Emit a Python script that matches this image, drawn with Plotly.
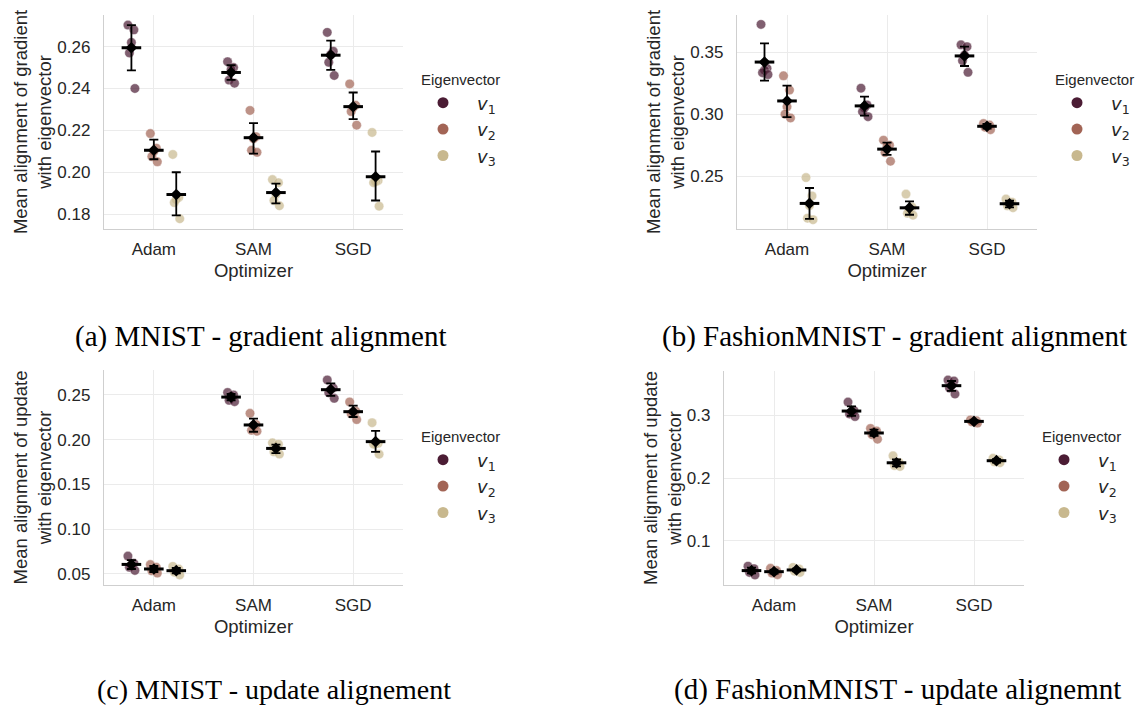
import plotly.graph_objects as go

# ---- data -------------------------------------------------------------
optimizers = ["Adam", "SAM", "SGD"]
eigen_labels = ["<i>v</i><sub>1</sub>", "<i>v</i><sub>2</sub>", "<i>v</i><sub>3</sub>"]

# per-seed alignment values, one inner list per optimizer (Adam, SAM, SGD)
mnist_grad_v1 = [[0.2703, 0.2680, 0.2620, 0.2570, 0.2400],
                 [0.2528, 0.2500, 0.2490, 0.2440, 0.2425],
                 [0.2668, 0.2578, 0.2562, 0.2525, 0.2462]]
mnist_grad_v2 = [[0.2185, 0.2115, 0.2100, 0.2075, 0.2050],
                 [0.2295, 0.2170, 0.2160, 0.2105, 0.2095],
                 [0.2422, 0.2320, 0.2310, 0.2290, 0.2225]]
mnist_grad_v3 = [[0.2085, 0.1880, 0.1870, 0.1855, 0.1778],
                 [0.1965, 0.1950, 0.1895, 0.1865, 0.1840],
                 [0.2190, 0.1960, 0.1955, 0.1950, 0.1838]]

fmnist_grad_v1 = [[0.3725, 0.3370, 0.3355, 0.3335, 0.3320],
                  [0.3210, 0.3075, 0.3050, 0.3020, 0.2980],
                  [0.3560, 0.3545, 0.3478, 0.3432, 0.3338]]
fmnist_grad_v2 = [[0.3310, 0.3195, 0.3060, 0.3000, 0.2970],
                  [0.2790, 0.2750, 0.2740, 0.2690, 0.2620],
                  [0.2925, 0.2912, 0.2905, 0.2895, 0.2875]]
fmnist_grad_v3 = [[0.2488, 0.2340, 0.2262, 0.2160, 0.2148],
                  [0.2355, 0.2250, 0.2230, 0.2200, 0.2185],
                  [0.2315, 0.2290, 0.2275, 0.2260, 0.2245]]

# SAM and SGD updates point along the gradient, so their update alignment
# equals the gradient alignment; only Adam differs.
mnist_update_v1 = [[0.0700, 0.0620, 0.0600, 0.0575, 0.0540], mnist_grad_v1[1], mnist_grad_v1[2]]
mnist_update_v2 = [[0.0605, 0.0575, 0.0555, 0.0535, 0.0510], mnist_grad_v2[1], mnist_grad_v2[2]]
mnist_update_v3 = [[0.0585, 0.0555, 0.0535, 0.0520, 0.0490], mnist_grad_v3[1], mnist_grad_v3[2]]

fmnist_update_v1 = [[0.0600, 0.0560, 0.0525, 0.0500, 0.0460], fmnist_grad_v1[1], fmnist_grad_v1[2]]
fmnist_update_v2 = [[0.0565, 0.0530, 0.0510, 0.0490, 0.0465], fmnist_grad_v2[1], fmnist_grad_v2[2]]
fmnist_update_v3 = [[0.0580, 0.0555, 0.0540, 0.0520, 0.0500], fmnist_grad_v3[1], fmnist_grad_v3[2]]

# 95% confidence intervals (low, high) per optimizer
mnist_grad_ci_v1 = [(0.2487, 0.2703), (0.2441, 0.2511), (0.2489, 0.2629)]
mnist_grad_ci_v2 = [(0.2062, 0.2156), (0.2089, 0.2235), (0.2254, 0.2381)]
mnist_grad_ci_v3 = [(0.1794, 0.2000), (0.1851, 0.1946), (0.1865, 0.2099)]

fmnist_grad_ci_v1 = [(0.3271, 0.3572), (0.2989, 0.3142), (0.3389, 0.3545)]
fmnist_grad_ci_v2 = [(0.2976, 0.3231), (0.2672, 0.2771), (0.2884, 0.2922)]
fmnist_grad_ci_v3 = [(0.2154, 0.2404), (0.2188, 0.2296), (0.2247, 0.2301)]

mnist_update_ci_v1 = [(0.0556, 0.0656), mnist_grad_ci_v1[1], mnist_grad_ci_v1[2]]
mnist_update_ci_v2 = [(0.0522, 0.0589), mnist_grad_ci_v2[1], mnist_grad_ci_v2[2]]
mnist_update_ci_v3 = [(0.0507, 0.0567), mnist_grad_ci_v3[1], mnist_grad_ci_v3[2]]

fmnist_update_ci_v1 = [(0.0486, 0.0576), fmnist_grad_ci_v1[1], fmnist_grad_ci_v1[2]]
fmnist_update_ci_v2 = [(0.0480, 0.0545), fmnist_grad_ci_v2[1], fmnist_grad_ci_v2[2]]
fmnist_update_ci_v3 = [(0.0518, 0.0560), fmnist_grad_ci_v3[1], fmnist_grad_ci_v3[2]]

# ---- styling -----------------------------------------------------------
W, H = 1138, 709
colors = ["#4b1c34", "#a26455", "#c8b88e"]
hue_offsets = [-0.225, 0.0, 0.225]
strip_jitter = [-0.035, 0.025, 0.0, -0.02, 0.035]
FONT = "Liberation Sans, Arial, sans-serif"
TXT = "#262626"

panels = [
    dict(name="", values=[mnist_grad_v1, mnist_grad_v2, mnist_grad_v3],
         ci=[mnist_grad_ci_v1, mnist_grad_ci_v2, mnist_grad_ci_v3],
         px=(104, 403), py=(15, 229), yrange=(0.1729, 0.2751),
         ticks=[0.18, 0.20, 0.22, 0.24, 0.26], fmt=".2f",
         ytitle="Mean alignment of gradient<br>with eigenvector",
         legend_pos=(419, 65),
         caption="(a) MNIST - gradient alignment", cap_pos=(261, 337), cap_size=29),
    dict(name="2", values=[fmnist_grad_v1, fmnist_grad_v2, fmnist_grad_v3],
         ci=[fmnist_grad_ci_v1, fmnist_grad_ci_v2, fmnist_grad_ci_v3],
         px=(737, 1037), py=(15, 229), yrange=(0.2073, 0.3801),
         ticks=[0.25, 0.30, 0.35], fmt=".2f",
         ytitle="Mean alignment of gradient<br>with eigenvector",
         legend_pos=(1053, 65),
         caption="(b) FashionMNIST - gradient alignment", cap_pos=(894, 337), cap_size=29),
    dict(name="3", values=[mnist_update_v1, mnist_update_v2, mnist_update_v3],
         ci=[mnist_update_ci_v1, mnist_update_ci_v2, mnist_update_ci_v3],
         px=(104, 403), py=(370, 585), yrange=(0.0377, 0.2779),
         ticks=[0.05, 0.10, 0.15, 0.20, 0.25], fmt=".2f",
         ytitle="Mean alignment of update<br>with eigenvector",
         legend_pos=(419, 422),
         caption="(c) MNIST - update alignement", cap_pos=(274, 689), cap_size=28),
    dict(name="4", values=[fmnist_update_v1, fmnist_update_v2, fmnist_update_v3],
         ci=[fmnist_update_ci_v1, fmnist_update_ci_v2, fmnist_update_ci_v3],
         px=(724, 1024), py=(371, 585), yrange=(0.030, 0.3704),
         ticks=[0.1, 0.2, 0.3], fmt=".1f",
         ytitle="Mean alignment of update<br>with eigenvector",
         legend_pos=(1040, 422),
         caption="(d) FashionMNIST - update alignemnt", cap_pos=(897, 689), cap_size=29),
]

fig = go.Figure()
layout = dict(width=W, height=H, margin=dict(l=0, r=0, t=0, b=0),
              paper_bgcolor="white", plot_bgcolor="white",
              font=dict(family=FONT, color=TXT), annotations=[])

for p in panels:
    xa, ya = "x" + p["name"], "y" + p["name"]
    leg = "legend" + p["name"]
    # jittered per-seed points
    for k in range(3):
        xs, ys = [], []
        for i in range(len(optimizers)):
            for j, v in enumerate(p["values"][k][i]):
                xs.append(i + hue_offsets[k] + strip_jitter[j])
                ys.append(v)
        fig.add_trace(go.Scatter(
            x=xs, y=ys, xaxis=xa, yaxis=ya, mode="markers", showlegend=False,
            marker=dict(size=9.5, color=colors[k], opacity=0.7,
                        line=dict(width=0.6, color="rgba(255,255,255,0.7)")),
            hoverinfo="skip"))
    # means with confidence intervals
    for k in range(3):
        xs = [i + hue_offsets[k] for i in range(len(optimizers))]
        means = [sum(v) / len(v) for v in p["values"][k]]
        lo = [m - c[0] for m, c in zip(means, p["ci"][k])]
        hi = [c[1] - m for m, c in zip(means, p["ci"][k])]
        fig.add_trace(go.Scatter(
            x=xs, y=means, xaxis=xa, yaxis=ya, mode="markers", showlegend=False,
            marker=dict(symbol="line-ew", size=14, line=dict(width=3, color="black")),
            error_y=dict(type="data", symmetric=False, array=hi, arrayminus=lo,
                         color="black", thickness=1.8, width=4.5)))
        fig.add_trace(go.Scatter(
            x=xs, y=means, xaxis=xa, yaxis=ya, mode="markers", showlegend=False,
            marker=dict(symbol="diamond", size=9, color="black")))
    # legend entries
    for k in range(3):
        fig.add_trace(go.Scatter(
            x=[None], y=[None], xaxis=xa, yaxis=ya, mode="markers", legend=leg,
            name=eigen_labels[k], marker=dict(size=11, color=colors[k])))

    x0, x1 = p["px"]
    ytop, ybot = p["py"]
    axis_common = dict(showgrid=True, gridcolor="#ebebeb", gridwidth=1,
                       showline=True, linecolor="#cfcfcf", linewidth=1.4,
                       zeroline=False, ticks="", tickfont=dict(size=17, color=TXT),
                       fixedrange=True)
    layout["xaxis" + p["name"]] = dict(
        axis_common, domain=[x0 / W, x1 / W], anchor=ya, range=[-0.5, 2.5],
        tickvals=list(range(len(optimizers))), ticktext=optimizers,
        ticklabelstandoff=4,
        title=dict(text="Optimizer", font=dict(size=18.5, color=TXT), standoff=6))
    layout["yaxis" + p["name"]] = dict(
        axis_common, domain=[1 - ybot / H, 1 - ytop / H], anchor=xa,
        range=list(p["yrange"]), tickvals=p["ticks"], tickformat=p["fmt"],
        ticklabelstandoff=9,
        title=dict(text=p["ytitle"], font=dict(size=18.5, color=TXT), standoff=0))
    lx, ly = p["legend_pos"]
    layout[leg] = dict(
        x=lx / W, y=1 - ly / H, xanchor="left", yanchor="top",
        bgcolor="rgba(0,0,0,0)", borderwidth=0, indentation=-10,
        title=dict(text="Eigenvector", side="top", font=dict(size=15, color=TXT,
                                                             family=FONT)),
        font=dict(size=18, color=TXT, family="DejaVu Sans, sans-serif"),
        itemwidth=58, tracegroupgap=0)
    cx, cy = p["cap_pos"]
    layout["annotations"].append(dict(
        text=p["caption"], x=cx / W, y=1 - cy / H, xref="paper", yref="paper",
        xanchor="center", yanchor="middle", showarrow=False,
        font=dict(family="Liberation Serif, Times New Roman, serif",
                  size=p["cap_size"], color="black")))

fig.update_layout(**layout)
fig.write_html("out.html")
